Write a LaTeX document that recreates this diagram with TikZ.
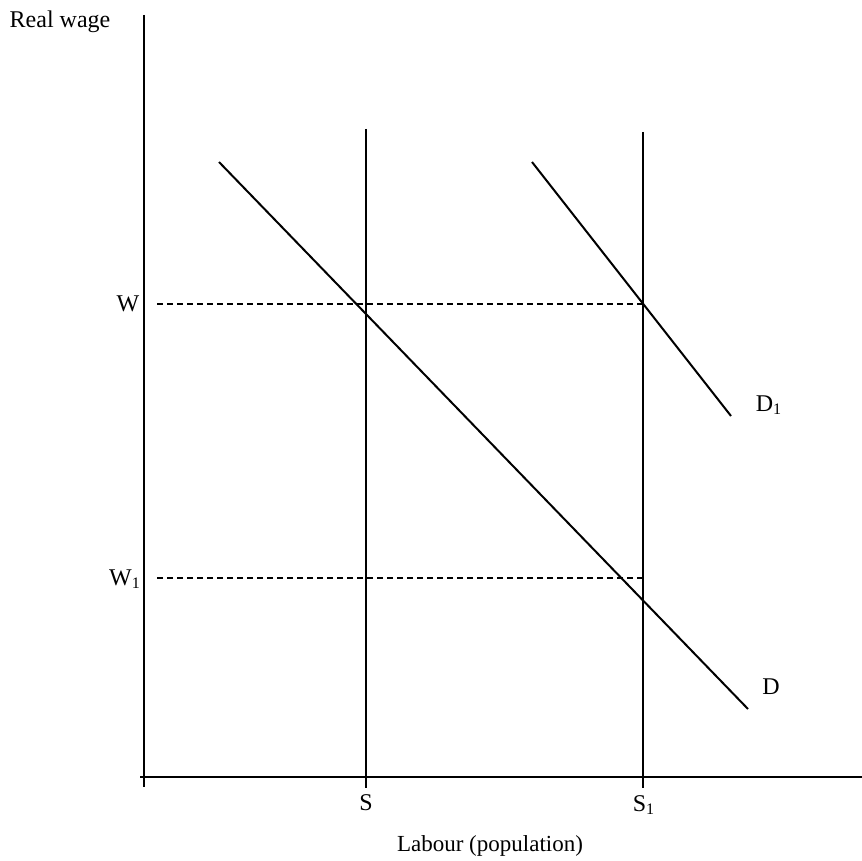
\documentclass[tikz,border=0pt]{standalone}
\usepackage{fontspec}
\setmainfont{Liberation Serif}
\begin{document}
\begin{tikzpicture}[x=0.5pt,y=-0.5pt,
  axis/.style={line width=1.1pt,black},
  curve/.style={line width=1pt,black},
  guide/.style={line width=1pt,black,dash pattern=on 3pt off 2pt},
  lbl/.style={inner sep=0pt,font=\fontsize{12}{14}\selectfont},
  big/.style={inner sep=0pt,font=\fontsize{11.5}{13}\selectfont}]
\useasboundingbox (0,0) rectangle (862,861);
% axes
\coordinate (ytop) at (144,15);
\coordinate (ybot) at (144,787);
\coordinate (xl) at (140,777);
\coordinate (xr) at (862,777);
\draw[axis] (ytop) -- (ybot);
\draw[axis] (xl) -- (xr);
% supply lines
\coordinate (Stop) at (366,129);
\coordinate (Sbot) at (366,788);
\coordinate (S1top) at (643,132);
\coordinate (S1bot) at (643,788);
\draw[axis] (Stop) -- (Sbot);
\draw[axis] (S1top) -- (S1bot);
% demand lines
\coordinate (Dtop) at (219,162);
\coordinate (Dbot) at (748,709);
\coordinate (D1top) at (532,162);
\coordinate (D1bot) at (731,416);
\draw[curve] (Dtop) -- (Dbot);
\draw[curve] (D1top) -- (D1bot);
% dashed guides
\coordinate (Wl) at (157,304);
\coordinate (Wr) at (643,304);
\coordinate (W1l) at (157,578);
\coordinate (W1r) at (643,578);
\draw[guide] (Wl) -- (Wr);
\draw[guide] (W1l) -- (W1r);
% labels
\node[lbl] (realwage) at (60,22) {Real wage};
\node[lbl] (W) at (128,304) {W};
\node[lbl] (W1) at (125,579) {W\textsubscript{1}};
\node[lbl] (D1) at (769,405) {D\textsubscript{1}};
\node[lbl] (D) at (771,687) {D};
\node[lbl] (S) at (366,803) {S};
\node[lbl] (S1) at (644,805) {S\textsubscript{1}};
\node[big] (labour) at (490,846) {Labour (population)};
\end{tikzpicture}
\end{document}
